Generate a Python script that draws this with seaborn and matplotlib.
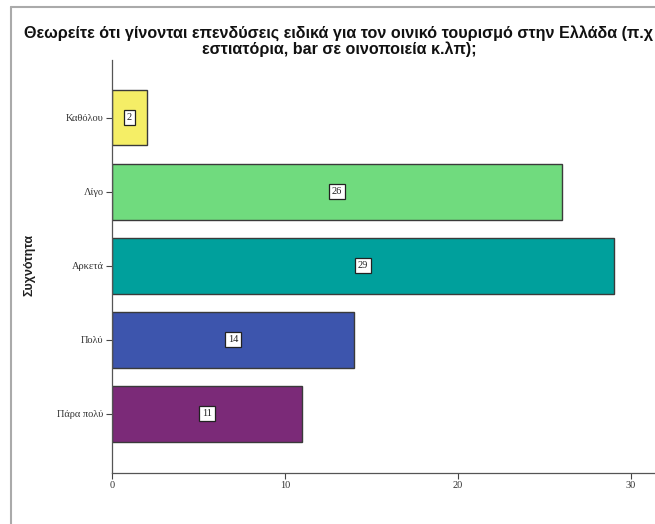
import matplotlib
matplotlib.use("Agg")
import matplotlib.pyplot as plt
import seaborn as sns
import pandas as pd
from matplotlib.lines import Line2D

categories = ["Καθόλου", "Λίγο", "Αρκετά", "Πολύ", "Πάρα πολύ"]
counts = [2, 26, 29, 14, 11]
colors = ["#f5ee66", "#70db7e", "#00a09c", "#3d55ad", "#7b2a78"]
xticks = [0, 10, 20, 30]
title = ("Θεωρείτε ότι γίνονται επενδύσεις ειδικά για τον οινικό τουρισμό στην Ελλάδα (π.χ\n"
         "εστιατόρια, bar σε οινοποιεία κ.λπ);")
ylabel = "Συχνότητα"

df = pd.DataFrame({"cat": categories, "n": counts})

sns.set_style("white")
plt.rcParams["font.family"] = ["Liberation Sans", "DejaVu Sans"]

W, H = 655, 524
fig = plt.figure(figsize=(6.55, 5.24), dpi=100)
ax = fig.add_axes([112 / W, 1 - 473 / H, 1 - 112 / W, (473 - 60) / H])

sns.barplot(data=df, y="cat", x="n", hue="cat", palette=colors, order=categories,
            hue_order=categories, orient="h", width=0.75, edgecolor="#3a3a3a",
            linewidth=1.0, saturation=1, legend=False, ax=ax)

ax.set_xlim(0, (W - 112) / 17.3)
ax.set_ylim(4.8, -0.78)
ax.set_xticks(xticks)
ax.set_xticklabels([str(t) for t in xticks], family="Liberation Serif", fontsize=7.5, color="#333333")
ax.set_yticks(range(len(categories)))
ax.set_yticklabels(categories, family="Liberation Serif", fontsize=7.5, color="#333333")
ax.tick_params(axis="both", length=4, width=0.8, color="#444444", direction="out",
               left=True, bottom=True, pad=2)
ax.set_xlabel("")
ax.set_ylabel("")
for s in ["top", "right"]:
    ax.spines[s].set_visible(False)
for s in ["left", "bottom"]:
    ax.spines[s].set_color("#555555")
    ax.spines[s].set_linewidth(0.9)

for i, v in enumerate(counts):
    ax.text(v / 2, i, str(v), ha="center", va="center", family="Liberation Serif",
            fontsize=7.5, color="#222222",
            bbox=dict(boxstyle="square,pad=0.3", fc="white", ec="#222222", lw=0.9))

fig.text(339 / W, 1 - 41 / H, title, ha="center", va="center", fontsize=11.6,
         fontweight="bold", linespacing=1.05, color="#111111",
         family=["Liberation Sans", "DejaVu Sans"])
fig.text(30 / W, 1 - 265 / H, ylabel, rotation=90, ha="center", va="center",
         fontsize=9, fontweight="bold", color="#222222",
         family=["Liberation Sans", "DejaVu Sans"])

fig.add_artist(Line2D([11 / W, 11 / W], [0, 1 - 7 / H], transform=fig.transFigure,
                      color="#aaaaaa", lw=1.5))
fig.add_artist(Line2D([11 / W, 1], [1 - 7 / H, 1 - 7 / H], transform=fig.transFigure,
                      color="#aaaaaa", lw=1.5))

fig.savefig("out.png", dpi=100)
